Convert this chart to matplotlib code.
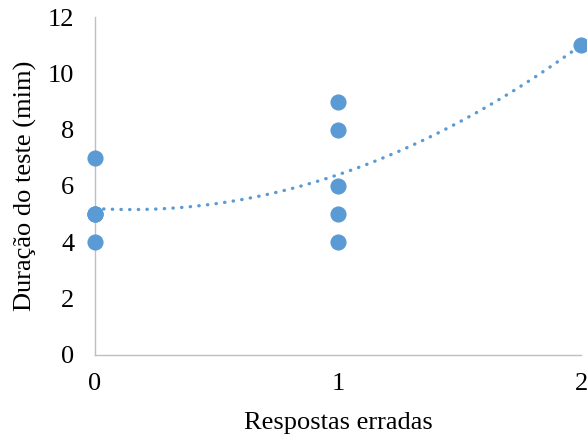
import numpy as np
import matplotlib.pyplot as plt

# dados: respostas erradas x duração do teste
respostas = [0, 0, 0, 0, 0, 1, 1, 1, 1, 1, 2]
duracao = [4, 5, 5, 5, 7, 4, 5, 6, 8, 9, 11]

COR = "#5B9BD5"
EIXO = "#BFBFBF"
FS = 19

plt.rcParams["font.family"] = ["Liberation Serif", "DejaVu Serif"]

fig = plt.figure(figsize=(5.87, 4.36), dpi=100)
ax = fig.add_axes([0.1618, 0.1858, 0.9898 - 0.1618, 0.961 - 0.1858])

# linha de tendência polinomial (ordem 2)
coef = np.polyfit(respostas, duracao, 2)
xs = np.linspace(0, 2, 200)
ax.plot(xs, np.polyval(coef, xs), color=COR, linewidth=2.4,
        linestyle=(0, (0.1, 2.5)), dash_capstyle="round", zorder=2)

ax.scatter(respostas, duracao, s=135, color=COR, linewidths=0,
           zorder=3, clip_on=False)

ax.set_xlim(0, 2)
ax.set_ylim(0, 12)
ax.set_xticks([0, 1, 2])
ax.set_yticks(range(0, 13, 2))

for s in ["top", "right"]:
    ax.spines[s].set_visible(False)
for s in ["left", "bottom"]:
    ax.spines[s].set_color(EIXO)
    ax.spines[s].set_linewidth(1.0)

ax.tick_params(axis="both", length=0, labelsize=FS, colors="black")
ax.tick_params(axis="y", pad=15)
ax.tick_params(axis="x", pad=13)

ax.set_xlabel("Respostas erradas", fontsize=FS, labelpad=12)
ax.set_ylabel("Duração do teste (mim)", fontsize=FS, labelpad=8)

plt.savefig("out.png", dpi=100)
plt.close()
